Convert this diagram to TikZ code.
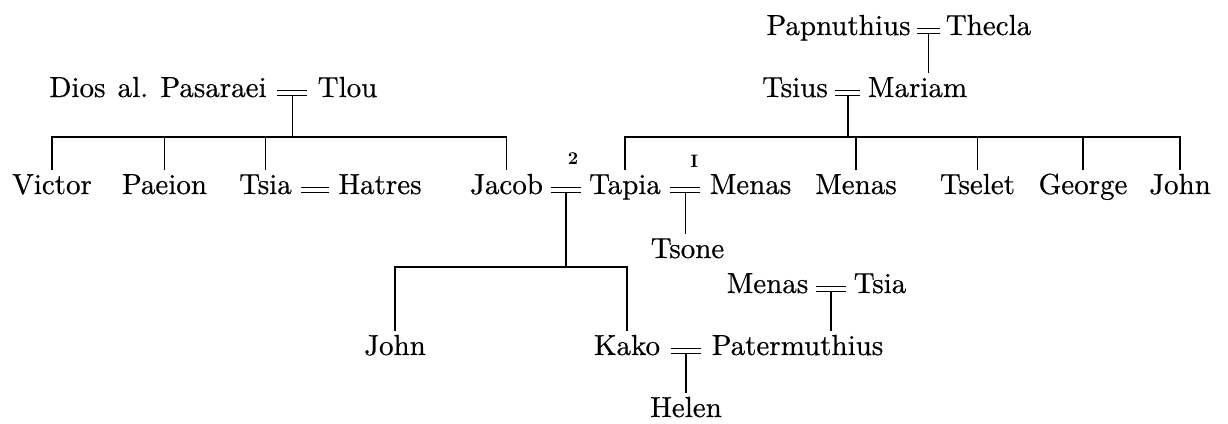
\documentclass[tikz,border=0pt]{standalone}
\usepackage{fontspec}
\setmainfont{lmroman10-regular}[Extension=.otf, BoldFont=lmroman10-bold]
\newfontfamily\personfont{lmroman10-regular}[Extension=.otf, FakeBold=0.5]
\usetikzlibrary{calc}
\newcommand\wedlock[3]{\coordinate (#1) at ($(#2.base east)!0.5!(#3.base west)+(0,-4)$);}
\begin{document}
\begin{tikzpicture}[x=1pt,y=-1pt,
  person/.style={inner sep=0pt, outer sep=0pt, anchor=base, font=\personfont\fontsize{29}{34}\selectfont},
  conn/.style={line width=1.3pt, line join=miter},
  drop/.style={conn, shorten >=4pt},
  marr/.style={double, double distance=4.2pt, line width=1.2pt},
  note/.style={inner sep=0pt, font=\fontsize{18}{18}\selectfont\bfseries}]
\useasboundingbox (0,0) rectangle (1228,423);

% people
\node[person] (papn)   at (838.5,35) {Papnuthius};
\node[person] (thecla) at (988.5,35) {Thecla};
\node[person] (tsius)  at (795,97) {Tsius};
\node[person] (mariam) at (917.5,97) {Mariam};
\node[person] (dios)   at (158,97) {Dios\hspace{0.42em}al.\hspace{0.42em}Pasaraei};
\node[person] (tlou)   at (347.5,97) {Tlou};

\node[person] (victor) at (52,194) {Victor};
\node[person] (paeion) at (164.5,194) {Paeion};
\node[person] (tsia)   at (265.5,194) {Tsia};
\node[person] (hatres) at (380,194) {Hatres};
\node[person] (jacob)  at (506.5,194) {Jacob};
\node[person] (tapia)  at (625,194) {Tapia};
\node[person] (menasA) at (750.5,194) {Menas};
\node[person] (menasB) at (856,194) {Menas};
\node[person] (tselet) at (977.5,194) {Tselet};
\node[person] (george) at (1083,194) {George};
\node[person] (johnA)  at (1180,194) {John};

\node[person] (tsone)  at (687.5,258) {Tsone};
\node[person] (menasC) at (767.5,293) {Menas};
\node[person] (tsiaB)  at (880,293) {Tsia};
\node[person] (johnB)  at (395,355) {John};
\node[person] (kako)   at (627,355) {Kako};
\node[person] (pater)  at (797.5,355) {Patermuthius};
\node[person] (helen)  at (686,417) {Helen};

% marriage points
\wedlock{mPT}{papn}{thecla}
\wedlock{mTM}{tsius}{mariam}
\wedlock{mDT}{dios}{tlou}
\wedlock{mTH}{tsia}{hatres}
\wedlock{mJT}{jacob}{tapia}
\wedlock{mTA}{tapia}{menasA}
\wedlock{mMT}{menasC}{tsiaB}
\wedlock{mKP}{kako}{pater}

\coordinate (barTop) at (0,137);
\coordinate (barLow) at (0,267);

% descent lines
\draw[drop] (mPT) -- (mPT |- mariam.north);

\draw[conn] (mDT) -- (mDT |- barTop);
\draw[conn, shorten <=4pt, shorten >=4pt] (victor.north) -- (victor |- barTop) -- (jacob |- barTop) -- (jacob.north);
\draw[drop] (paeion |- barTop) -- (paeion.north);
\draw[drop] (tsia |- barTop) -- (tsia.north);

\draw[conn] (mTM) -- (mTM |- barTop);
\draw[conn, shorten <=4pt, shorten >=4pt] (tapia.north) -- (tapia |- barTop) -- (johnA |- barTop) -- (johnA.north);
\draw[drop] (menasB |- barTop) -- (menasB.north);
\draw[drop] (tselet |- barTop) -- (tselet.north);
\draw[drop] (george |- barTop) -- (george.north);

\draw[conn] (mJT) -- (mJT |- barLow);
\draw[conn, shorten <=4pt, shorten >=4pt] (johnB.north) -- (johnB |- barLow) -- (kako |- barLow) -- (kako.north);

\draw[drop] (mTA) -- (mTA |- tsone.north);
\draw[drop] (mMT) -- (mMT |- pater.north);
\draw[drop] (mKP) -- (mKP |- helen.north);

% marriage signs
\foreach \m/\h in {mPT/11.5,mTM/12.5,mDT/15,mTH/14,mJT/15,mTA/15,mMT/15,mKP/15}
  \draw[marr] ([shift={(-\h,0)}]\m) -- ([shift={(\h,0)}]\m);

% marriage order marks
\node[note] (n2) at ($(mJT)+(7,-31)$) {2};
\node[note] (n1) at ($(mTA)+(9,-29)$) {I};
\end{tikzpicture}
\end{document}
